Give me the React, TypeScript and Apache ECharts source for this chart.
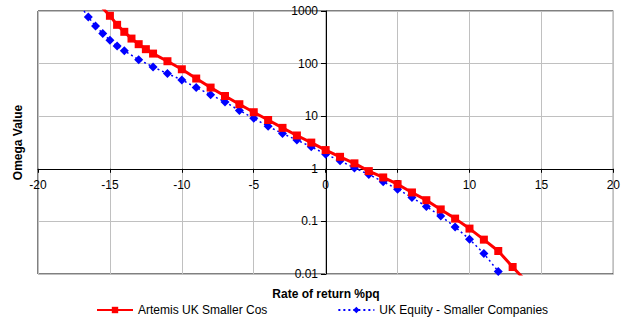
import React, { useEffect, useRef } from "react";
import * as echarts from "echarts";

const artemisName = "Artemis UK Smaller Cos";
const equityName = "UK Equity - Smaller Companies";

const artemisX = [-15.5, -15, -14.5, -14, -13.5, -13, -12.5, -12, -11, -10, -9, -8, -7, -6, -5, -4, -3, -2, -1, 0, 1, 2, 3, 4, 5, 6, 7, 8, 9, 10, 11, 12, 13, 14];
const artemisY = [1130, 811, 546, 402, 299, 234, 188, 155, 111, 78, 52, 35, 24.2, 16.9, 11.9, 8.47, 6.0, 4.3, 3.15, 2.27, 1.69, 1.27, 0.904, 0.685, 0.51, 0.355, 0.253, 0.169, 0.113, 0.073, 0.045, 0.0274, 0.0136, 0.007];

const equityX = [-17, -16.5, -16, -15.5, -15, -14.5, -14, -13, -12, -11, -10, -9, -8, -7, -6, -5, -4, -3, -2, -1, 0, 1, 2, 3, 4, 5, 6, 7, 8, 9, 10, 11, 12, 13];
const equityY = [1200, 765, 516, 373, 279, 217, 175, 119, 86.5, 64.5, 49, 35, 25.7, 18.6, 12.9, 9.12, 6.42, 4.68, 3.52, 2.62, 1.9, 1.42, 1.04, 0.78, 0.565, 0.41, 0.285, 0.192, 0.126, 0.0786, 0.0458, 0.0245, 0.0112, 0.0055];

const xTicks = [-20, -15, -10, -5, 0, 5, 10, 15, 20];
const yTicks = ["0.01", "0.1", "1", "10", "100", "1000"];

const xTitle = "Rate of return %pq";
const yTitle = "Omega Value";

const FONT = 'Arial, "Liberation Sans", sans-serif';

export default function App() {
  const ref = useRef<HTMLDivElement>(null);
  useEffect(() => {
    if (!ref.current) return;
    const chart = echarts.init(ref.current, undefined, { renderer: "svg" });
    const gridLeft = 38, gridRight = 9, gridTop = 11, gridBottom = 44;
    const plotW = 623 - gridLeft - gridRight;
    const plotH = 318 - gridTop - gridBottom;
    const xOffset = -(plotH * 2 / 5); // axis line at y = 1 (2 of 5 decades up)
    const yOffset = -(plotW / 2); // axis line at x = 0
    chart.setOption({
      animation: false,
      textStyle: { fontFamily: FONT },
      grid: {
        left: gridLeft, right: gridRight, top: gridTop, bottom: gridBottom,
        show: true, borderColor: "#000", borderWidth: 1,
      },
      xAxis: {
        type: "value", min: xTicks[0], max: xTicks[xTicks.length - 1], interval: 5,
        position: "bottom", offset: xOffset,
        axisLine: { onZero: false, lineStyle: { color: "#000", width: 1 } },
        axisTick: { show: true, length: 4, lineStyle: { color: "#000" } },
        axisLabel: { color: "#000", fontSize: 12, margin: 10, fontFamily: FONT, showMinLabel: true, showMaxLabel: true },
        splitLine: { show: true, lineStyle: { color: "#c0c0c0", width: 1 } },
      },
      yAxis: {
        type: "log", logBase: 10, min: 0.01, max: 1000,
        position: "left", offset: yOffset,
        axisLine: { onZero: false, lineStyle: { color: "#000", width: 1 } },
        axisTick: { show: true, length: 5, lineStyle: { color: "#000" } },
        axisLabel: {
          color: "#000", fontSize: 12, margin: 8, fontFamily: FONT,
          formatter: (v: number) => {
            const e = Math.round(Math.log10(v));
            return yTicks[e + 2] ?? String(v);
          },
        },
        splitLine: { show: true, lineStyle: { color: "#c0c0c0", width: 1 } },
        minorTick: { show: false },
      },
      legend: {
        left: 96, top: 304, itemGap: 70, itemWidth: 36, itemHeight: 8, padding: 0,
        textStyle: { fontSize: 12, color: "#000", fontFamily: FONT },
        data: [artemisName, equityName],
      },
      graphic: [
        {
          type: "text", x: 18, y: gridTop + plotH / 2, rotation: Math.PI / 2,
          style: { text: yTitle, font: `bold 12px ${FONT}`, fill: "#000", align: "center", verticalAlign: "middle" },
        },
        {
          type: "text", x: 326, y: 294,
          style: { text: xTitle, font: `bold 12px ${FONT}`, fill: "#000", align: "center", verticalAlign: "middle" },
        },
      ],
      series: [
        {
          name: artemisName, type: "line", clip: true,
          data: artemisX.map((x, i) => [x, artemisY[i]]),
          symbol: "rect", symbolSize: 8, showAllSymbol: true,
          itemStyle: { color: "#ff0000" },
          lineStyle: { color: "#ff0000", width: 3 },
          z: 3,
        },
        {
          name: equityName, type: "line", clip: true,
          data: equityX.map((x, i) => [x, equityY[i]]),
          symbol: "diamond", symbolSize: 9, showAllSymbol: true,
          itemStyle: { color: "#0000ff" },
          lineStyle: { color: "#0000ff", width: 1.5, type: [2, 3] },
          z: 2,
        },
      ],
    });
    return () => chart.dispose();
  }, []);
  return <div ref={ref} style={{ width: 623, height: 318, position: "absolute", left: 0, top: 0 }} />;
}
